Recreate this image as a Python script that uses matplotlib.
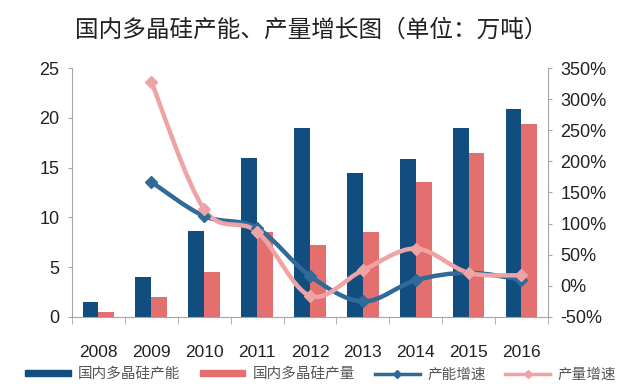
import numpy as np
import matplotlib.pyplot as plt
from matplotlib.path import Path
from matplotlib.patches import PathPatch, Patch
from matplotlib.lines import Line2D

plt.rcParams['font.family'] = ['Liberation Sans', 'Noto Sans CJK SC', 'DejaVu Sans']

# data (万吨, %)
years = ['2008', '2009', '2010', '2011', '2012', '2013', '2014', '2015', '2016']
capacity = [1.5, 4.0, 8.6, 16.0, 19.0, 14.5, 15.9, 19.0, 20.9]
output = [0.5, 2.0, 4.5, 8.5, 7.2, 8.5, 13.6, 16.5, 19.4]
cap_growth = [None, 167, 112, 93, 16, -25, 9, 21, 10]
out_growth = [None, 328, 123, 87, -16, 25, 60, 21, 17]

c_cap = '#114e7f'
c_out = '#e36f6f'
c_capl = '#2f6a98'
c_outl = '#f0a3a5'
grey = '#a6a6a6'


def smooth_path(xs, ys):
    # catmull-rom style bezier through the points (like excel smoothed lines)
    pts = np.column_stack([xs, ys]).astype(float)
    verts = [pts[0]]
    codes = [Path.MOVETO]
    n = len(pts)
    for i in range(n - 1):
        p0 = pts[i - 1] if i > 0 else pts[i]
        p1 = pts[i]
        p2 = pts[i + 1]
        p3 = pts[i + 2] if i + 2 < n else pts[i + 1]
        c1 = p1 + (p2 - p0) / 6.0
        c2 = p2 - (p3 - p1) / 6.0
        verts += [c1, c2, p2]
        codes += [Path.CURVE4] * 3
    return Path(verts, codes)


fig = plt.figure(figsize=(6.29, 3.86), dpi=100)
ax = fig.add_axes([0.1145, 0.1788, 0.7565, 0.645])
x = np.arange(len(years))
w = 0.3
ax.bar(x - w / 2, capacity, w, color=c_cap, zorder=2)
ax.bar(x + w / 2, output, w, color=c_out, zorder=2)
ax.set_xlim(-0.5, len(years) - 0.5)
ax.set_ylim(0, 25)
ax.set_yticks(range(0, 26, 5))

ax2 = ax.twinx()
ax2.set_ylim(-50, 350)
ax2.set_yticks(range(-50, 351, 50))
ax2.set_yticklabels([f'{v}%' for v in range(-50, 351, 50)])

for vals, col in [(cap_growth, c_capl), (out_growth, c_outl)]:
    xs = [i for i, v in enumerate(vals) if v is not None]
    ys = [v for v in vals if v is not None]
    ax2.add_patch(PathPatch(smooth_path(xs, ys), fill=False, edgecolor=col,
                            lw=3.2, capstyle='round', joinstyle='round', zorder=3))
    ax2.plot(xs, ys, ls='none', marker='D', ms=6.5, color=col, zorder=4)

for a in (ax, ax2):
    a.spines['top'].set_visible(False)
    for s in ('left', 'right', 'bottom'):
        a.spines[s].set_color(grey)
    a.tick_params(axis='y', length=3, color=grey, labelsize=13, labelcolor='#222222', pad=6)
ax2.spines['left'].set_visible(False)
ax.spines['right'].set_visible(False)
ax2.spines['bottom'].set_visible(False)

ax.set_xticks(x)
ax.set_xticklabels(years)
ax.set_xticks(np.arange(-0.5, len(years)), minor=True)
ax.tick_params(axis='x', which='major', length=0, labelsize=12.5, labelcolor='#222222', pad=20)
ax.tick_params(axis='x', which='minor', length=5, color=grey)

fig.text(0.495, 0.922, '国内多晶硅产能、产量增长图（单位：万吨）', ha='center', va='center',
         fontsize=17, color='#222222', family=['Noto Sans CJK SC'])

handles = [
    Patch(color=c_cap),
    Patch(color=c_out),
    Line2D([], [], color=c_capl, lw=2.5, marker='D', ms=4),
    Line2D([], [], color=c_outl, lw=2.5, marker='D', ms=4),
]
labels = ['国内多晶硅产能', '国内多晶硅产量', '产能增速', '产量增速']
leg = fig.legend(handles, labels, loc='center', bbox_to_anchor=(0.51, 0.03), ncol=4,
                 frameon=False, handlelength=3.1, handleheight=0.25,
                 handletextpad=0.5, columnspacing=1.35,
                 prop={'family': ['Noto Sans CJK SC'], 'size': 10.5})
for t in leg.get_texts():
    t.set_color('#555555')

fig.savefig('out.png', dpi=100)
